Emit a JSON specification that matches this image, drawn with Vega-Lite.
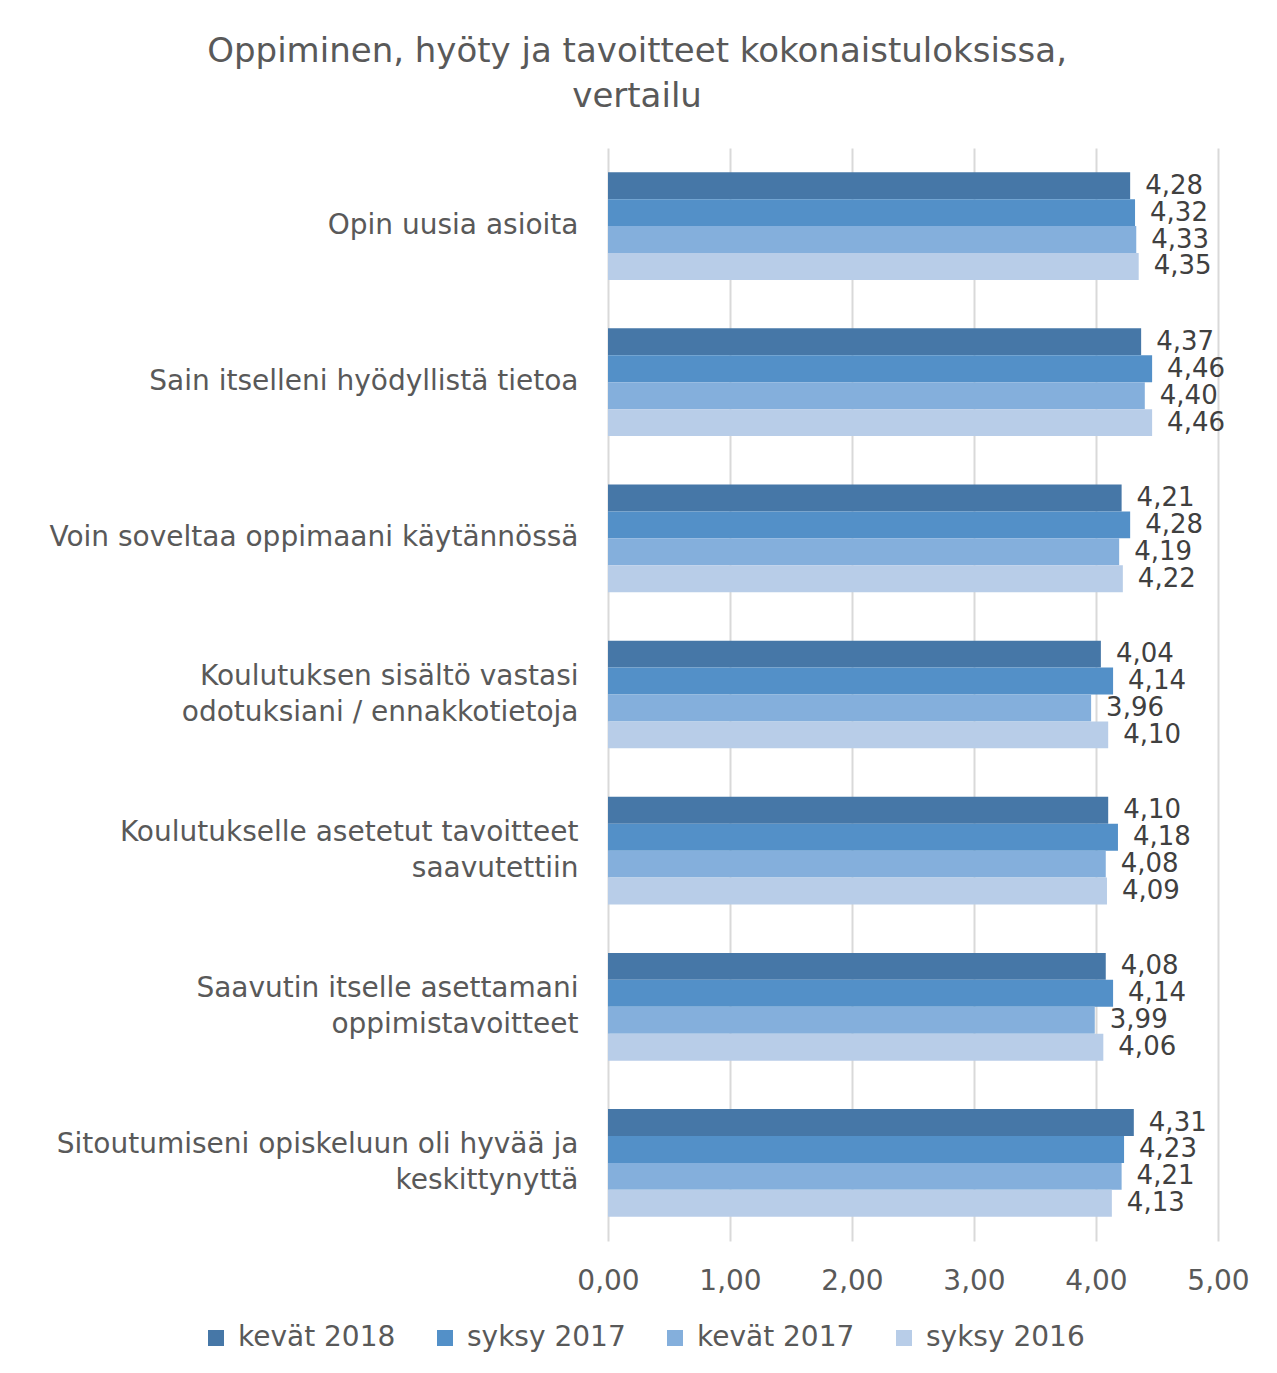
{
  "$schema": "https://vega.github.io/schema/vega-lite/v6.json",
  "width": 610,
  "height": 1093,
  "padding": {"left": 25, "top": 35, "right": 59, "bottom": 10},
  "background": "white",
  "title": {
    "text": ["Oppiminen, hyöty ja tavoitteet kokonaistuloksissa,", "vertailu"],
    "font": "DejaVu Sans",
    "fontSize": 34,
    "fontWeight": "normal",
    "color": "#595959",
    "lineHeight": 45,
    "anchor": "middle",
    "frame": "bounds",
    "offset": 34
  },
  "config": {
    "locale": {"number": {"decimal": ",", "thousands": " ", "grouping": [3], "currency": ["", " €"]}},
    "view": {"stroke": null},
    "font": "DejaVu Sans"
  },
  "data": {
    "values": [
      {"kysymys": "Opin uusia asioita", "sarja": "kevät 2018", "arvo": 4.28},
      {"kysymys": "Opin uusia asioita", "sarja": "syksy 2017", "arvo": 4.32},
      {"kysymys": "Opin uusia asioita", "sarja": "kevät 2017", "arvo": 4.33},
      {"kysymys": "Opin uusia asioita", "sarja": "syksy 2016", "arvo": 4.35},
      {"kysymys": "Sain itselleni hyödyllistä tietoa", "sarja": "kevät 2018", "arvo": 4.37},
      {"kysymys": "Sain itselleni hyödyllistä tietoa", "sarja": "syksy 2017", "arvo": 4.46},
      {"kysymys": "Sain itselleni hyödyllistä tietoa", "sarja": "kevät 2017", "arvo": 4.40},
      {"kysymys": "Sain itselleni hyödyllistä tietoa", "sarja": "syksy 2016", "arvo": 4.46},
      {"kysymys": "Voin soveltaa oppimaani käytännössä", "sarja": "kevät 2018", "arvo": 4.21},
      {"kysymys": "Voin soveltaa oppimaani käytännössä", "sarja": "syksy 2017", "arvo": 4.28},
      {"kysymys": "Voin soveltaa oppimaani käytännössä", "sarja": "kevät 2017", "arvo": 4.19},
      {"kysymys": "Voin soveltaa oppimaani käytännössä", "sarja": "syksy 2016", "arvo": 4.22},
      {"kysymys": "Koulutuksen sisältö vastasi |odotuksiani / ennakkotietoja", "sarja": "kevät 2018", "arvo": 4.04},
      {"kysymys": "Koulutuksen sisältö vastasi |odotuksiani / ennakkotietoja", "sarja": "syksy 2017", "arvo": 4.14},
      {"kysymys": "Koulutuksen sisältö vastasi |odotuksiani / ennakkotietoja", "sarja": "kevät 2017", "arvo": 3.96},
      {"kysymys": "Koulutuksen sisältö vastasi |odotuksiani / ennakkotietoja", "sarja": "syksy 2016", "arvo": 4.10},
      {"kysymys": "Koulutukselle asetetut tavoitteet|saavutettiin", "sarja": "kevät 2018", "arvo": 4.10},
      {"kysymys": "Koulutukselle asetetut tavoitteet|saavutettiin", "sarja": "syksy 2017", "arvo": 4.18},
      {"kysymys": "Koulutukselle asetetut tavoitteet|saavutettiin", "sarja": "kevät 2017", "arvo": 4.08},
      {"kysymys": "Koulutukselle asetetut tavoitteet|saavutettiin", "sarja": "syksy 2016", "arvo": 4.09},
      {"kysymys": "Saavutin itselle asettamani|oppimistavoitteet", "sarja": "kevät 2018", "arvo": 4.08},
      {"kysymys": "Saavutin itselle asettamani|oppimistavoitteet", "sarja": "syksy 2017", "arvo": 4.14},
      {"kysymys": "Saavutin itselle asettamani|oppimistavoitteet", "sarja": "kevät 2017", "arvo": 3.99},
      {"kysymys": "Saavutin itselle asettamani|oppimistavoitteet", "sarja": "syksy 2016", "arvo": 4.06},
      {"kysymys": "Sitoutumiseni opiskeluun oli hyvää ja|keskittynyttä", "sarja": "kevät 2018", "arvo": 4.31},
      {"kysymys": "Sitoutumiseni opiskeluun oli hyvää ja|keskittynyttä", "sarja": "syksy 2017", "arvo": 4.23},
      {"kysymys": "Sitoutumiseni opiskeluun oli hyvää ja|keskittynyttä", "sarja": "kevät 2017", "arvo": 4.21},
      {"kysymys": "Sitoutumiseni opiskeluun oli hyvää ja|keskittynyttä", "sarja": "syksy 2016", "arvo": 4.13}
    ]
  },
  "encoding": {
    "y": {
      "field": "kysymys",
      "type": "nominal",
      "sort": null,
      "title": null,
      "scale": {"paddingInner": 0.31, "paddingOuter": 0.155},
      "axis": {
        "labelExpr": "split(datum.value, '|')",
        "labelFont": "DejaVu Sans",
        "labelFontSize": 28,
        "labelColor": "#595959",
        "labelLineHeight": 36,
        "labelPadding": 30,
        "labelLimit": 700,
        "labelOffset": {"condition": {"test": "indexof(datum.value, '|') >= 0", "value": -18}, "value": 0},
        "ticks": false,
        "domain": false,
        "minExtent": 583,
        "maxExtent": 583
      }
    },
    "yOffset": {
      "field": "sarja",
      "type": "nominal",
      "sort": ["kevät 2018", "syksy 2017", "kevät 2017", "syksy 2016"],
      "scale": {"paddingInner": 0, "paddingOuter": 0}
    },
    "x": {
      "field": "arvo",
      "type": "quantitative",
      "title": null,
      "scale": {"domain": [0, 5], "nice": false},
      "axis": {
        "values": [0, 1, 2, 3, 4, 5],
        "format": ".2f",
        "labelFont": "DejaVu Sans",
        "labelFontSize": 28,
        "labelColor": "#595959",
        "labelPadding": 26,
        "labelFlush": false,
        "ticks": false,
        "domain": false,
        "grid": true,
        "gridColor": "#d9d9d9",
        "gridWidth": 2
      }
    }
  },
  "layer": [
    {
      "mark": {"type": "bar"},
      "encoding": {
        "color": {
          "field": "sarja",
          "type": "nominal",
          "sort": ["kevät 2018", "syksy 2017", "kevät 2017", "syksy 2016"],
          "scale": {
            "domain": ["kevät 2018", "syksy 2017", "kevät 2017", "syksy 2016"],
            "range": ["#4677a7", "#5390c8", "#84afdc", "#b8cde8"]
          },
          "legend": {
            "title": null,
            "orient": "none",
            "direction": "horizontal",
            "columns": 4,
            "legendX": -406,
            "legendY": 1176,
            "symbolType": "square",
            "symbolSize": 256,
            "symbolStrokeWidth": 0,
            "labelFont": "DejaVu Sans",
            "labelFontSize": 28,
            "labelColor": "#595959",
            "labelOffset": 8,
            "labelLimit": 300,
            "columnPadding": 35
          }
        }
      }
    },
    {
      "mark": {"type": "text", "align": "left", "baseline": "middle", "dx": 15, "font": "DejaVu Sans", "fontSize": 26, "color": "#404040"},
      "encoding": {
        "text": {"field": "arvo", "type": "quantitative", "format": ".2f"}
      }
    }
  ]
}
